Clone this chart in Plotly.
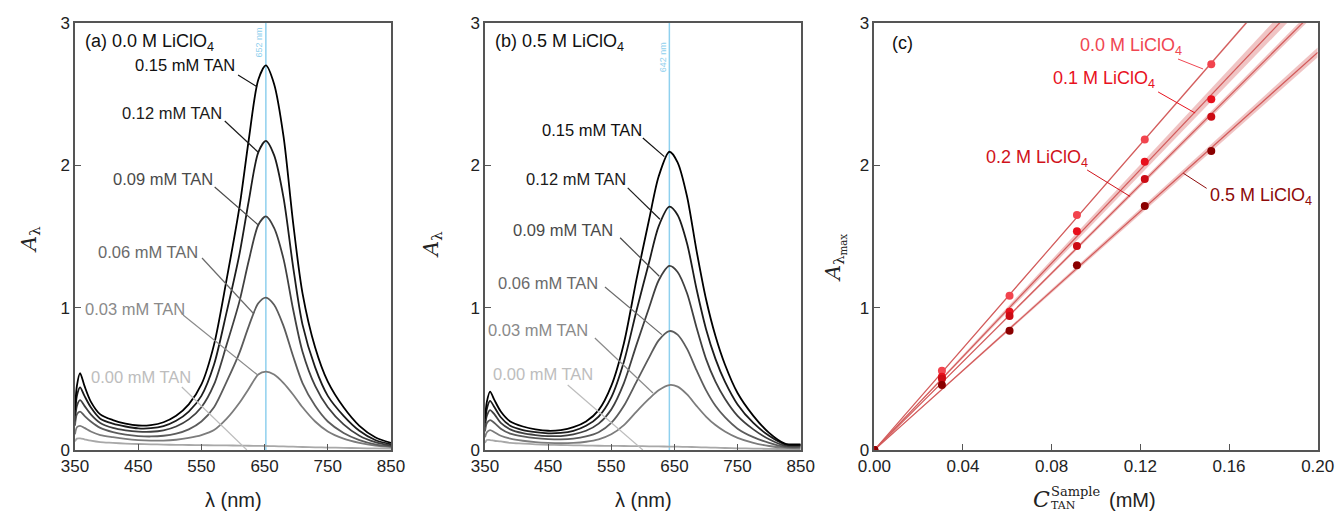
import numpy as np
import plotly.graph_objects as go

# ---------------- spectra data ----------------
tan_labels = ["0.00", "0.03", "0.06", "0.09", "0.12", "0.15"]

# (a) 0.0 M LiClO4
wl_a = [350, 353, 358, 365, 375, 390, 410, 430, 450, 470, 490, 510, 530, 550, 570,
        590, 610, 625, 640, 652, 665, 680, 695, 710, 730, 750, 775, 800, 825, 850]
a_000 = [0.06, 0.08, 0.082, 0.075, 0.065, 0.055, 0.05, 0.045, 0.042, 0.04, 0.038, 0.036, 0.035, 0.034, 0.033,
         0.032, 0.031, 0.03, 0.029, 0.028, 0.027, 0.025, 0.023, 0.021, 0.019, 0.017, 0.015, 0.013, 0.011, 0.01]
a_003 = [0.11, 0.16, 0.17, 0.155, 0.13, 0.105, 0.09, 0.078, 0.07, 0.066, 0.066, 0.072, 0.085, 0.105, 0.14,
         0.22, 0.33, 0.43, 0.53, 0.55, 0.53, 0.47, 0.39, 0.30, 0.20, 0.13, 0.08, 0.05, 0.03, 0.02]
a_006 = [0.17, 0.25, 0.27, 0.24, 0.20, 0.155, 0.125, 0.108, 0.098, 0.095, 0.10, 0.115, 0.145, 0.20, 0.30,
         0.48, 0.68, 0.87, 1.03, 1.07, 1.02, 0.87, 0.66, 0.47, 0.31, 0.20, 0.12, 0.07, 0.04, 0.025]
a_009 = [0.20, 0.31, 0.35, 0.31, 0.25, 0.19, 0.155, 0.138, 0.129, 0.128, 0.138, 0.165, 0.215, 0.30, 0.46,
         0.74, 1.04, 1.33, 1.58, 1.64, 1.56, 1.34, 0.99, 0.69, 0.45, 0.30, 0.18, 0.10, 0.055, 0.03]
a_012 = [0.24, 0.38, 0.44, 0.38, 0.30, 0.22, 0.185, 0.165, 0.152, 0.153, 0.168, 0.205, 0.27, 0.38, 0.60,
         0.97, 1.37, 1.75, 2.09, 2.17, 2.07, 1.77, 1.29, 0.88, 0.58, 0.38, 0.24, 0.135, 0.07, 0.04]
a_015 = [0.28, 0.45, 0.54, 0.45, 0.34, 0.25, 0.21, 0.185, 0.172, 0.175, 0.195, 0.24, 0.32, 0.46, 0.74,
         1.20, 1.70, 2.18, 2.60, 2.70, 2.57, 2.20, 1.60, 1.10, 0.72, 0.48, 0.30, 0.17, 0.09, 0.05]

# (b) 0.5 M LiClO4
wl_b = [350, 353, 358, 365, 375, 390, 410, 430, 450, 470, 490, 510, 530, 550, 570,
        590, 610, 625, 642, 655, 670, 685, 700, 715, 730, 750, 775, 800, 825, 850]
b_000 = [0.05, 0.07, 0.07, 0.065, 0.06, 0.05, 0.045, 0.04, 0.037, 0.035, 0.033, 0.031, 0.03, 0.029, 0.028,
         0.027, 0.026, 0.025, 0.024, 0.023, 0.022, 0.02, 0.018, 0.016, 0.014, 0.012, 0.01, 0.008, 0.006, 0.005]
b_003 = [0.09, 0.125, 0.14, 0.125, 0.10, 0.08, 0.065, 0.055, 0.05, 0.048, 0.05, 0.058, 0.075, 0.11, 0.175,
         0.27, 0.36, 0.42, 0.456, 0.445, 0.39, 0.31, 0.235, 0.175, 0.13, 0.085, 0.05, 0.028, 0.015, 0.012]
b_006 = [0.13, 0.19, 0.21, 0.19, 0.15, 0.115, 0.095, 0.083, 0.077, 0.075, 0.08, 0.095, 0.125, 0.19, 0.31,
         0.48, 0.65, 0.77, 0.835, 0.81, 0.71, 0.56, 0.42, 0.31, 0.23, 0.15, 0.09, 0.05, 0.022, 0.02]
b_009 = [0.16, 0.24, 0.28, 0.25, 0.19, 0.145, 0.118, 0.105, 0.098, 0.098, 0.11, 0.135, 0.185, 0.285, 0.47,
         0.74, 1.00, 1.19, 1.292, 1.25, 1.10, 0.86, 0.64, 0.48, 0.36, 0.24, 0.145, 0.075, 0.03, 0.028]
b_012 = [0.19, 0.29, 0.345, 0.30, 0.23, 0.17, 0.14, 0.125, 0.117, 0.12, 0.135, 0.17, 0.235, 0.37, 0.62,
         0.98, 1.32, 1.57, 1.708, 1.65, 1.45, 1.13, 0.85, 0.64, 0.48, 0.32, 0.19, 0.10, 0.04, 0.035]
b_015 = [0.22, 0.34, 0.41, 0.35, 0.27, 0.20, 0.165, 0.145, 0.135, 0.14, 0.16, 0.20, 0.28, 0.45, 0.75,
         1.20, 1.62, 1.92, 2.094, 2.02, 1.78, 1.40, 1.06, 0.80, 0.60, 0.40, 0.24, 0.12, 0.045, 0.04]

# ---------------- calibration data (c) ----------------
c_tan = [0.0, 0.0305, 0.061, 0.0914, 0.122, 0.152]
amax_00 = [0.0, 0.557, 1.083, 1.650, 2.180, 2.708]
amax_01 = [0.0, 0.515, 0.971, 1.535, 2.024, 2.462]
amax_02 = [0.0, 0.500, 0.941, 1.432, 1.903, 2.340]
amax_05 = [0.0, 0.456, 0.838, 1.297, 1.713, 2.100]
salt_labels = ["0.0 M", "0.1 M", "0.2 M", "0.5 M"]
slope_ci = [0.06, 0.30, 0.14, 0.17]   # half-width of the slope confidence band

# ---------------- styling ----------------
W, H = 1338, 513
FONT = "Liberation Sans, Arial, sans-serif"
SERIF = "DejaVu Serif, Liberation Serif, serif"
AX = "#555555"
line_cols = ["#a8a8a8", "#7c7c7c", "#5c5c5c", "#404040", "#1c1c1c", "#000000"]
text_cols = ["#bdbdbd", "#8a8a8a", "#6a6a6a", "#4a4a4a", "#1c1c1c", "#111111"]
salt_pt = ["#f2444e", "#e8101c", "#cc0b14", "#8a0000"]
salt_txt = ["#f04652", "#e8121e", "#d0121a", "#8e0a0a"]
fit_line = "#d25a5a"
fit_band = "rgba(222,125,125,0.45)"
BLUE = "#8fd0ee"


def px_dom(a, b, total):
    return [a / total, b / total]


def px_x(p):
    return p / W


def px_y(p):
    return (H - p) / H


ydom = [(H - 450) / H, (H - 22.7) / H]
xdom_a = px_dom(75, 391, W)
xdom_b = px_dom(485, 800.7, W)
xdom_c = px_dom(874.3, 1317.7, W)

fig = go.Figure()

spectra_a = [a_000, a_003, a_006, a_009, a_012, a_015]
spectra_b = [b_000, b_003, b_006, b_009, b_012, b_015]

for i, ys in enumerate(spectra_a):
    fig.add_trace(go.Scatter(x=wl_a, y=ys, mode="lines", xaxis="x", yaxis="y",
                             line=dict(color=line_cols[i], width=1.8, shape="spline", smoothing=0.8),
                             showlegend=False, hoverinfo="skip"))
for i, ys in enumerate(spectra_b):
    fig.add_trace(go.Scatter(x=wl_b, y=ys, mode="lines", xaxis="x2", yaxis="y2",
                             line=dict(color=line_cols[i], width=1.8, shape="spline", smoothing=0.8),
                             showlegend=False, hoverinfo="skip"))

# linear fits through the origin with confidence bands
cx = np.array(c_tan)
series_c = [amax_00, amax_01, amax_02, amax_05]
xe = 0.2
for i, ys in enumerate(series_c):
    yv = np.array(ys)
    slope = float((cx * yv).sum() / (cx * cx).sum())
    hi, lo = (slope + slope_ci[i]) * xe, (slope - slope_ci[i]) * xe
    fig.add_trace(go.Scatter(x=[0, xe, xe, 0], y=[0, hi, lo, 0], fill="toself", mode="none",
                             fillcolor=fit_band, xaxis="x3", yaxis="y3",
                             showlegend=False, hoverinfo="skip"))
    fig.add_trace(go.Scatter(x=[0, xe], y=[0, slope * xe], mode="lines", xaxis="x3", yaxis="y3",
                             line=dict(color=fit_line, width=1.2), showlegend=False, hoverinfo="skip"))
for i, ys in enumerate(series_c):
    fig.add_trace(go.Scatter(x=c_tan, y=ys, mode="markers", xaxis="x3", yaxis="y3",
                             marker=dict(color=salt_pt[i], size=8), cliponaxis=True,
                             showlegend=False, hoverinfo="skip"))

axis_common = dict(showline=True, mirror=True, linecolor=AX, linewidth=1.5, ticks="inside",
                   ticklen=6, tickwidth=1.2, tickcolor=AX, showgrid=False, zeroline=False,
                   automargin=False, tickfont=dict(family=FONT, size=17, color="#222"))

fig.update_layout(
    width=W, height=H, margin=dict(l=0, r=0, t=0, b=0, autoexpand=False),
    paper_bgcolor="white", plot_bgcolor="white",
    xaxis=dict(domain=xdom_a, range=[350, 850], tickvals=[350, 450, 550, 650, 750, 850], anchor="y", **axis_common),
    yaxis=dict(domain=ydom, range=[0, 3], tickvals=[0, 1, 2, 3], anchor="x", **axis_common),
    xaxis2=dict(domain=xdom_b, range=[350, 850], tickvals=[350, 450, 550, 650, 750, 850], anchor="y2", **axis_common),
    yaxis2=dict(domain=ydom, range=[0, 3], tickvals=[0, 1, 2, 3], anchor="x2", **axis_common),
    xaxis3=dict(domain=xdom_c, range=[0, 0.2], tickvals=[0, 0.04, 0.08, 0.12, 0.16, 0.2],
                ticktext=["0.00", "0.04", "0.08", "0.12", "0.16", "0.20"], anchor="y3", **axis_common),
    yaxis3=dict(domain=ydom, range=[0, 3], tickvals=[0, 1, 2, 3], anchor="x3", **axis_common),
)

shapes = []
ann = []

# peak wavelength markers
for xr, yr, lam, ty in [("x", "y", 652, 2.86), ("x2", "y2", 642, 2.76)]:
    shapes.append(dict(type="line", xref=xr, yref=yr, x0=lam, x1=lam, y0=0, y1=3,
                       line=dict(color=BLUE, width=1.5), layer="below"))
    ann.append(dict(xref=xr, yref=yr, x=lam - 11, y=ty, text=f"{lam} nm", showarrow=False,
                    textangle=-90, font=dict(family=FONT, size=9, color=BLUE)))

# concentration labels with leader lines: (text x, text y, leader x0, y0, x1, y1)
labels_a = [
    (454, 0.513, 519, 0.442, 622, 0.0),
    (445, 0.99, 521, 0.948, 638, 0.53),
    (465, 1.39, 551, 1.348, 632, 0.96),
    (489, 1.903, 571, 1.847, 640, 1.58),
    (503, 2.366, 587, 2.31, 640, 2.09),
    (524, 2.70, 608, 2.633, 638, 2.55),
]
labels_b = [
    (442, 0.534, 481, 0.456, 600, 0.0),
    (434, 0.843, 524, 0.786, 616, 0.40),
    (450, 1.173, 540, 1.144, 630, 0.81),
    (473, 1.545, 564, 1.49, 626, 1.22),
    (494, 1.903, 576, 1.84, 627, 1.62),
    (519, 2.247, 600, 2.19, 634, 2.06),
]
for xr, yr, labs in [("x", "y", labels_a), ("x2", "y2", labels_b)]:
    for i, (tx, ty, x0, y0, x1, y1) in enumerate(labs):
        ann.append(dict(xref=xr, yref=yr, x=tx, y=ty, text=f"{tan_labels[i]} mM TAN", showarrow=False,
                        font=dict(family=FONT, size=16.5, color=text_cols[i])))
        shapes.append(dict(type="line", xref=xr, yref=yr, x0=x0, y0=y0, x1=x1, y1=y1,
                           line=dict(color=text_cols[i], width=1.2)))

labels_c = [
    (0.1156, 2.832, 0.1370, 2.745, 0.1483, 2.675),
    (0.1036, 2.598, 0.1280, 2.514, 0.1447, 2.366),
    (0.0733, 2.048, 0.0960, 1.966, 0.1154, 1.780),
    (0.1744, 1.778, 0.1499, 1.837, 0.1394, 1.943),
]
for i, (tx, ty, x0, y0, x1, y1) in enumerate(labels_c):
    ann.append(dict(xref="x3", yref="y3", x=tx, y=ty, text=f"{salt_labels[i]} LiClO<sub>4</sub>",
                    showarrow=False, font=dict(family=FONT, size=18, color=salt_txt[i])))
    shapes.append(dict(type="line", xref="x3", yref="y3", x0=x0, y0=y0, x1=x1, y1=y1,
                       line=dict(color=salt_txt[i], width=1.0)))

# panel titles
ann.append(dict(xref="x", yref="y", x=362, y=2.86, xanchor="left", showarrow=False,
                text="(a) 0.0 M LiClO<sub>4</sub>", font=dict(family=FONT, size=18, color="#111")))
ann.append(dict(xref="x2", yref="y2", x=362, y=2.86, xanchor="left", showarrow=False,
                text="(b) 0.5 M LiClO<sub>4</sub>", font=dict(family=FONT, size=18, color="#111")))
ann.append(dict(xref="x3", yref="y3", x=0.007, y=2.86, xanchor="left", showarrow=False,
                text="(c)", font=dict(family=FONT, size=18, color="#111")))

# axis titles
for cx_px in [233, 643]:
    ann.append(dict(xref="paper", yref="paper", x=px_x(cx_px), y=px_y(500), xanchor="center",
                    yanchor="middle", showarrow=False,
                    text="λ (nm)", font=dict(family=FONT, size=20, color="#222")))
# C_TAN^Sample (mM): base letter, stacked super/subscript, unit
ann.append(dict(xref="paper", yref="paper", x=px_x(1041), y=px_y(499), xanchor="center", yanchor="middle",
                showarrow=False, text="<i>C</i>", font=dict(family=SERIF, size=22, color="#222")))
ann.append(dict(xref="paper", yref="paper", x=px_x(1049), y=px_y(491), xanchor="left", yanchor="middle",
                showarrow=False, text="Sample", font=dict(family=SERIF, size=13, color="#222")))
ann.append(dict(xref="paper", yref="paper", x=px_x(1049), y=px_y(505), xanchor="left", yanchor="middle",
                showarrow=False, text="TAN", font=dict(family=SERIF, size=11, color="#222")))
ann.append(dict(xref="paper", yref="paper", x=px_x(1132), y=px_y(500), xanchor="center", yanchor="middle",
                showarrow=False, text="(mM)", font=dict(family=FONT, size=20, color="#222")))
for cx_px, cy_px, txt in [(30, 240, "<i>A</i><sub>λ</sub>"), (432, 245, "<i>A</i><sub>λ</sub>"),
                          (835, 258, "<i>A</i><sub>λ<sub>max</sub></sub>")]:
    ann.append(dict(xref="paper", yref="paper", x=px_x(cx_px), y=px_y(cy_px), xanchor="center",
                    yanchor="middle", showarrow=False,
                    textangle=-90, text=txt, font=dict(family=SERIF, size=21, color="#222")))

fig.update_layout(shapes=shapes, annotations=ann)
fig.write_html("out.html")
